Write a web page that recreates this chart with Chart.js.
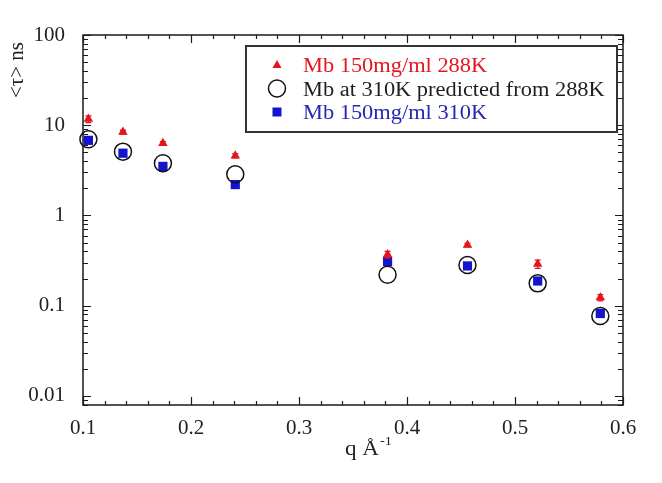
<!DOCTYPE html>
<html>
<head>
<meta charset="utf-8">
<script src="https://cdn.jsdelivr.net/npm/chart.js@4.4.0/dist/chart.umd.min.js"></script>
<style>
  html, body { margin: 0; padding: 0; background: #fff; }
  #wrap { width: 662px; height: 483px; position: relative; }
</style>
</head>
<body>
<div id="wrap"><canvas id="chart"></canvas></div>
<script>
// values
const qValues = [0.105, 0.137, 0.174, 0.241, 0.382, 0.456, 0.521, 0.579];
const tau288 = [11.7, 8.4, 6.3, 4.6, 0.37, 0.47, 0.29, 0.123];
const tau288Err = [1.0, 0.4, 0.3, 0.25, 0.03, 0.02, 0.03, 0.01];
const tauPredicted = [7.0, 5.1, 3.8, 2.86, 0.22, 0.283, 0.177, 0.077];
const tau310 = [6.8, 4.9, 3.5, 2.2, 0.31, 0.276, 0.188, 0.082];
const xTickValues = [0.1, 0.2, 0.3, 0.4, 0.5, 0.6];
const yTickValues = [0.01, 0.1, 1, 10, 100];
const seriesLabels = ['Mb 150mg/ml 288K', 'Mb at 310K predicted from 288K', 'Mb 150mg/ml 310K'];

const RED = '#e3161d';
const BLUE = '#1414cf';
const SERIF = '"Liberation Serif", "DejaVu Serif", serif';

function toPoints(ys) {
  return qValues.map((q, i) => ({ x: q, y: ys[i] }));
}

// frame with inward ticks on all four sides
const framePlugin = {
  id: 'frame',
  beforeDatasetsDraw(chart) {
    const ctx = chart.ctx;
    const a = chart.chartArea;
    const xs = chart.scales.x;
    const ys = chart.scales.y;
    ctx.save();
    ctx.strokeStyle = '#1a1a1a';
    ctx.lineWidth = 1.5;
    ctx.strokeRect(a.left, a.top, a.right - a.left, a.bottom - a.top);
    ctx.lineWidth = 1.2;
    ctx.beginPath();
    // x ticks, major every 0.1, minor every 0.02
    for (let k = 0; k <= 25; k++) {
      const v = 0.1 + k * 0.02;
      const px = Math.round(xs.getPixelForValue(v)) + 0.5;
      const len = k % 5 === 0 ? 8 : 4;
      ctx.moveTo(px, a.bottom); ctx.lineTo(px, a.bottom - len);
      ctx.moveTo(px, a.top); ctx.lineTo(px, a.top + len);
    }
    // y ticks, decades plus 2..9
    for (let e = -3; e <= 2; e++) {
      for (let m = 1; m <= 9; m++) {
        const v = m * Math.pow(10, e);
        if (v < ys.min || v > ys.max) continue;
        const py = Math.round(ys.getPixelForValue(v)) + 0.5;
        const len = m === 1 ? 8 : 5;
        ctx.moveTo(a.left, py); ctx.lineTo(a.left + len, py);
        ctx.moveTo(a.right, py); ctx.lineTo(a.right - len, py);
      }
    }
    ctx.stroke();
    ctx.restore();
  },
  afterDatasetsDraw(chart) {
    const ctx = chart.ctx;
    const xs = chart.scales.x;
    const ys = chart.scales.y;
    // error bars of the 288K series
    ctx.save();
    ctx.strokeStyle = RED;
    ctx.lineWidth = 1.3;
    ctx.beginPath();
    qValues.forEach((q, i) => {
      const px = xs.getPixelForValue(q);
      const top = ys.getPixelForValue(tau288[i] + tau288Err[i]);
      const bot = ys.getPixelForValue(tau288[i] - tau288Err[i]);
      ctx.moveTo(px, top); ctx.lineTo(px, bot);
      ctx.moveTo(px - 3, top); ctx.lineTo(px + 3, top);
      ctx.moveTo(px - 3, bot); ctx.lineTo(px + 3, bot);
    });
    ctx.stroke();
    ctx.restore();
  },
  afterDraw(chart) {
    const ctx = chart.ctx;
    const a = chart.chartArea;
    ctx.save();
    ctx.textBaseline = 'alphabetic';

    // legend box
    const bx = a.left + 163, by = a.top + 11, bw = 371, bh = 86;
    ctx.fillStyle = '#fff';
    ctx.fillRect(bx, by, bw, bh);
    ctx.strokeStyle = '#333';
    ctx.lineWidth = 2;
    ctx.strokeRect(bx, by, bw, bh);
    const colors = [RED, '#1e1e1e', '#2626b4'];
    seriesLabels.forEach((label, i) => {
      const cy = by + 19 + i * 23.5;
      const mx = bx + 31;
      ctx.beginPath();
      if (i === 0) {
        ctx.fillStyle = RED;
        ctx.moveTo(mx, cy - 5); ctx.lineTo(mx + 4.5, cy + 3); ctx.lineTo(mx - 4.5, cy + 3);
        ctx.closePath(); ctx.fill();
      } else if (i === 1) {
        ctx.strokeStyle = '#111'; ctx.lineWidth = 1.5;
        ctx.arc(mx, cy, 8.5, 0, Math.PI * 2); ctx.stroke();
      } else {
        ctx.fillStyle = BLUE;
        ctx.fillRect(mx - 4.5, cy - 4.5, 9, 9);
      }
      ctx.save();
      ctx.translate(bx + 57, cy + 7);
      ctx.scale(1.12, 1);
      ctx.font = '20px ' + SERIF;
      ctx.fillStyle = colors[i];
      ctx.fillText(label, 0, 0);
      ctx.restore();
    });

    // y axis title
    ctx.save();
    ctx.translate(23, 70);
    ctx.rotate(-Math.PI / 2);
    ctx.font = '21px ' + SERIF;
    ctx.fillStyle = '#222';
    ctx.textAlign = 'center';
    ctx.fillText('<\u03c4> ns', 0, 0);
    ctx.restore();

    // x axis title with superscript
    ctx.save();
    ctx.fillStyle = '#222';
    ctx.translate((a.left + a.right) / 2 - 8, a.bottom + 50);
    ctx.scale(1.1, 1);
    ctx.font = '21px ' + SERIF;
    ctx.fillText('q \u00c5', 0, 0);
    const w = ctx.measureText('q \u00c5').width;
    ctx.font = '13px ' + SERIF;
    ctx.fillText('-1', w + 1, -10);
    ctx.restore();

    ctx.restore();
  }
};

const tickFont = { family: SERIF, size: 21 };

new Chart(document.getElementById('chart'), {
  type: 'scatter',
  data: {
    datasets: [
      {
        label: seriesLabels[0],
        data: toPoints(tau288),
        pointStyle: 'triangle',
        pointRadius: 5.5,
        backgroundColor: RED,
        borderColor: RED,
        borderWidth: 0,
        order: 1,
        clip: false
      },
      {
        label: seriesLabels[1],
        data: toPoints(tauPredicted),
        pointStyle: 'circle',
        pointRadius: 8.5,
        backgroundColor: 'rgba(0,0,0,0)',
        borderColor: '#111',
        borderWidth: 1.5,
        order: 0,
        clip: false
      },
      {
        label: seriesLabels[2],
        data: toPoints(tau310),
        pointStyle: 'rect',
        pointRadius: 6.5,
        backgroundColor: BLUE,
        borderColor: BLUE,
        borderWidth: 0,
        order: 2,
        clip: false
      }
    ]
  },
  options: {
    responsive: true,
    maintainAspectRatio: false,
    animation: false,
    events: [],
    layout: { padding: { top: 35, right: 39, left: 0, bottom: 0 } },
    plugins: {
      legend: { display: false },
      tooltip: { enabled: false }
    },
    scales: {
      x: {
        type: 'linear',
        min: 0.1,
        max: 0.6,
        afterBuildTicks: s => { s.ticks = xTickValues.map(v => ({ value: v })); },
        afterFit: s => { s.height = 78; },
        grid: { display: false },
        border: { display: false },
        ticks: {
          callback: v => v.toFixed(1),
          font: tickFont,
          color: '#222',
          padding: 3,
          maxRotation: 0
        }
      },
      y: {
        type: 'logarithmic',
        min: Math.pow(10, -2.1),
        max: 100,
        afterBuildTicks: s => { s.ticks = yTickValues.map(v => ({ value: v })); },
        afterFit: s => { s.width = 83; },
        grid: { display: false },
        border: { display: false },
        ticks: {
          callback: v => String(v),
          font: tickFont,
          color: '#222',
          padding: 10
        }
      }
    }
  },
  plugins: [framePlugin]
});
</script>
</body>
</html>
